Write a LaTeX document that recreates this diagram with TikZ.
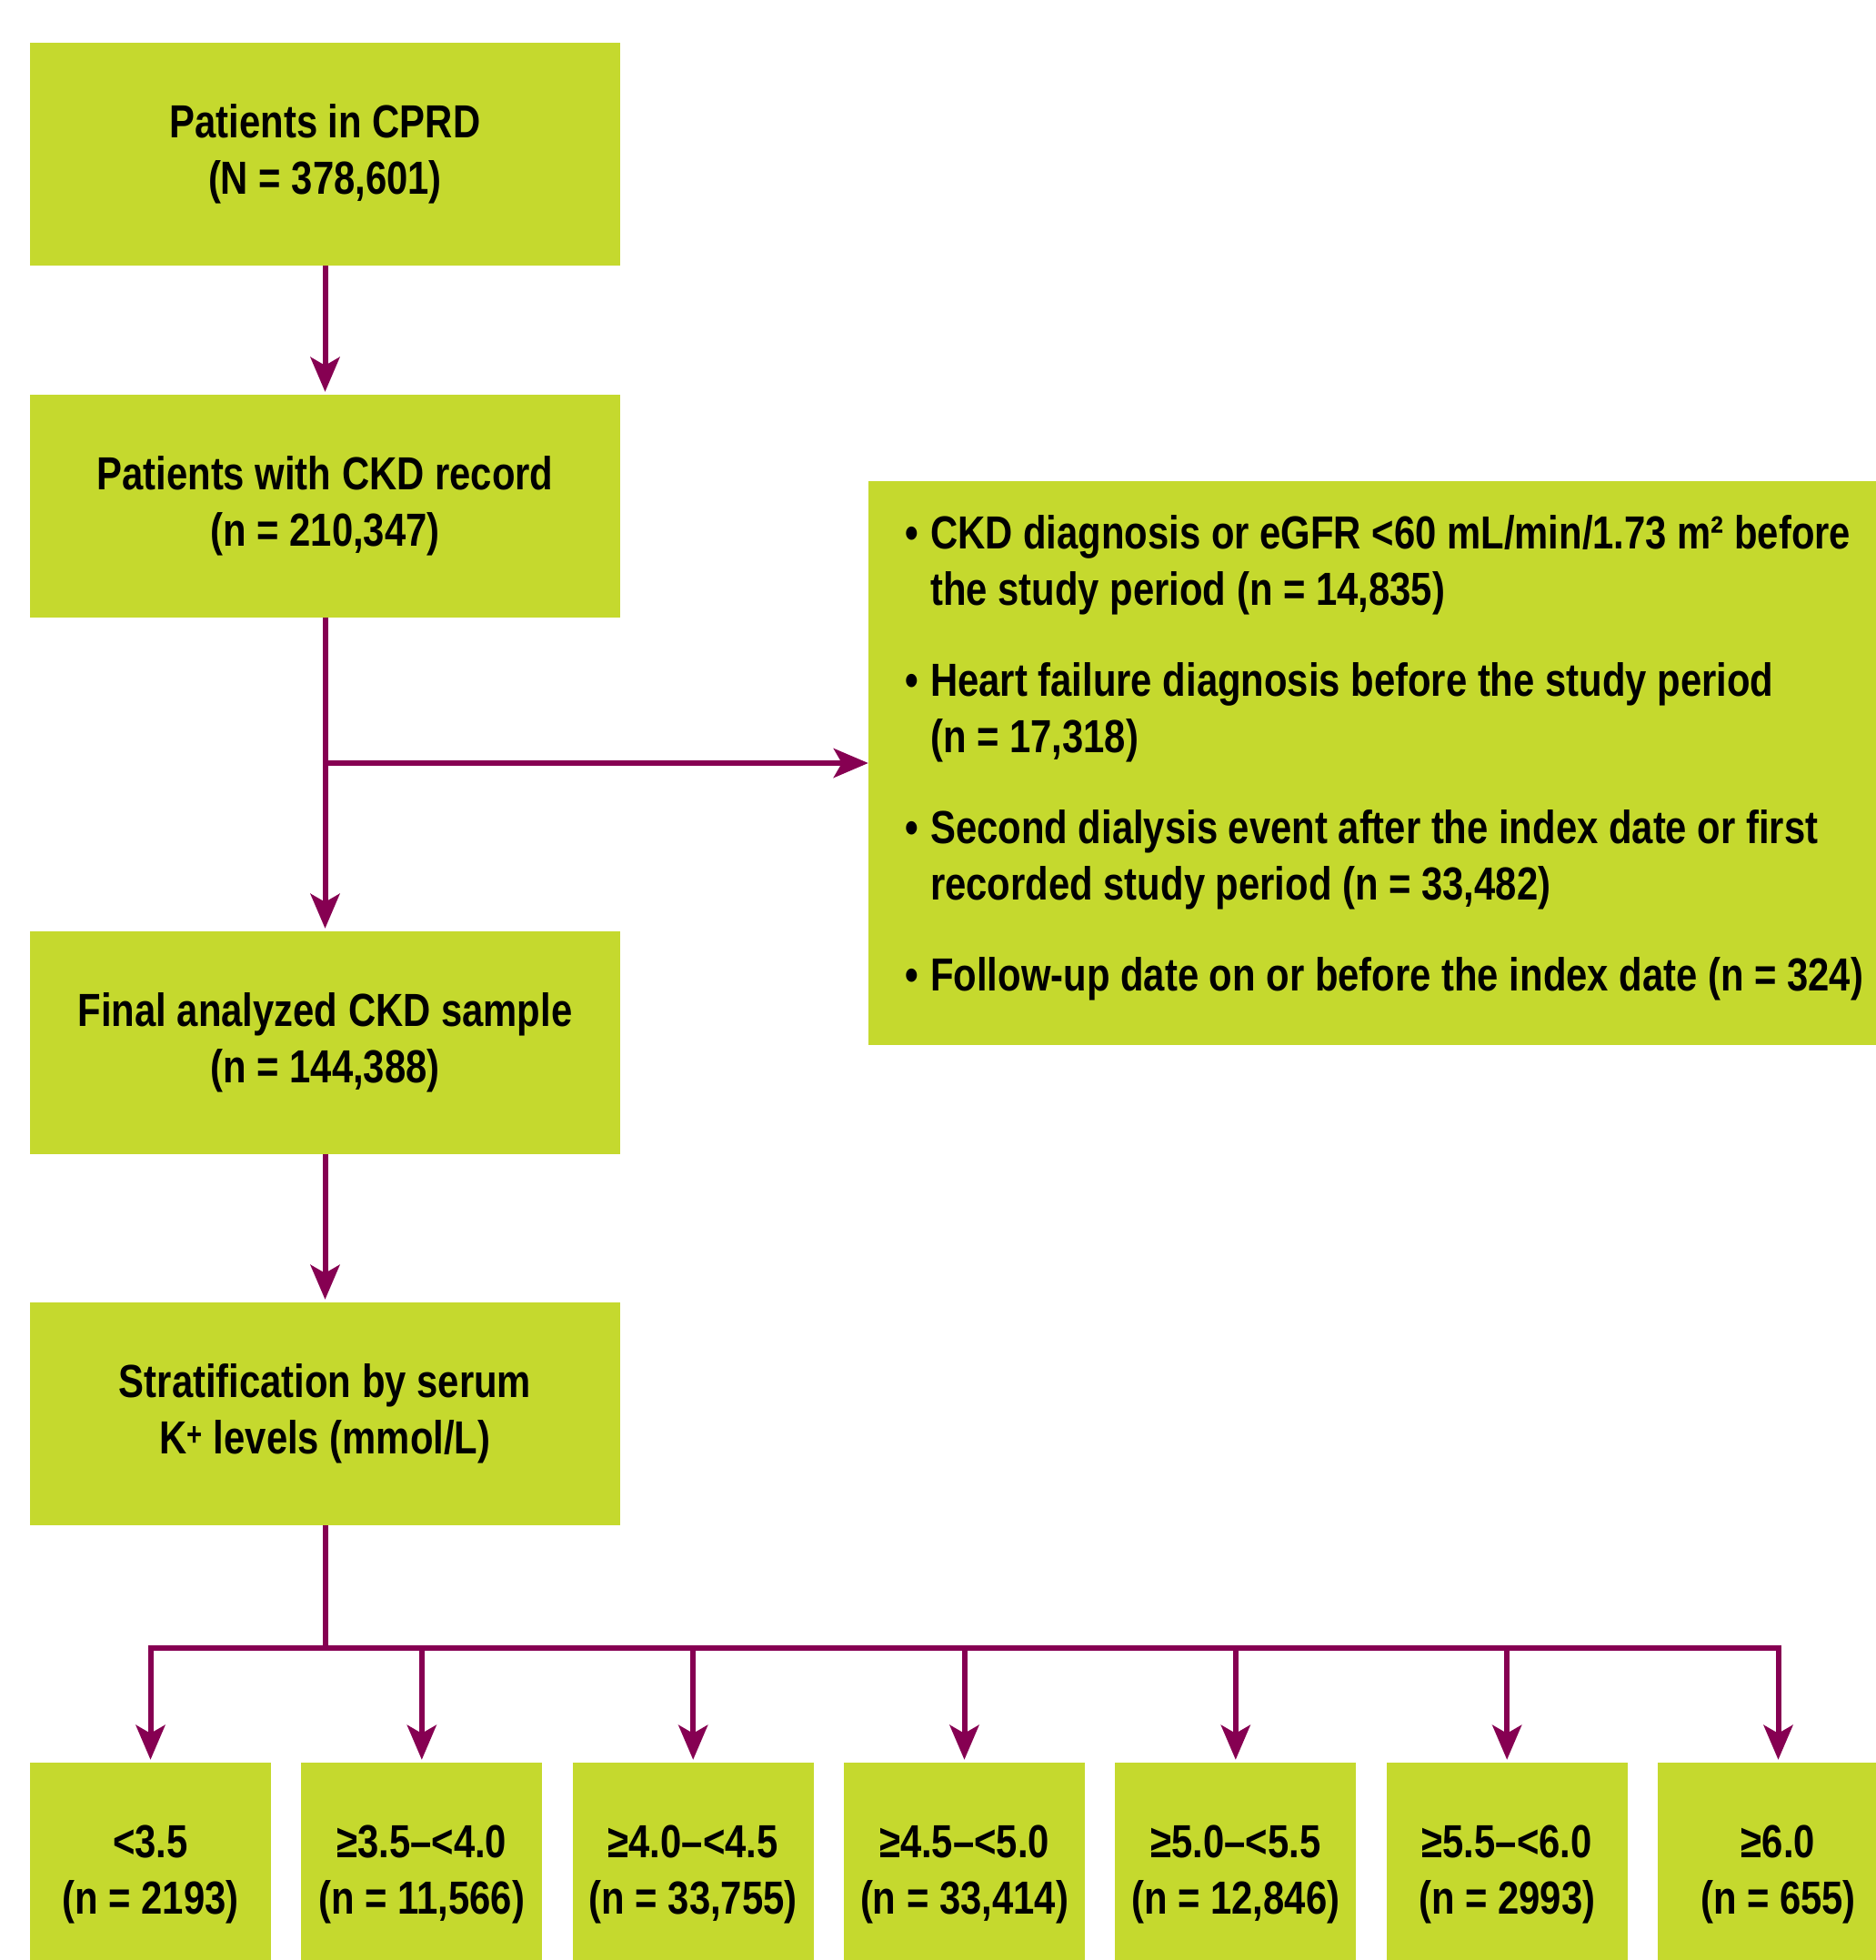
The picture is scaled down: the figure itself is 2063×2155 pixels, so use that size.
\documentclass[tikz,border=0pt]{standalone}
\usepackage{fontspec}
\setmainfont{Liberation Sans}[FakeStretch=0.82]
\usetikzlibrary{arrows.meta}
\definecolor{boxgreen}{RGB}{197,217,46}
\definecolor{arrowpurple}{RGB}{134,0,82}
\begin{document}
\begin{tikzpicture}[x=1pt,y=-1pt,
  box/.style={fill=boxgreen, draw=none, inner sep=0pt, align=center, text=black,
    font=\fontsize{51}{62}\selectfont\bfseries},
  leftbox/.style={box, minimum width=649pt, minimum height=245pt},
  kbox/.style={box, minimum width=265pt, minimum height=245pt},
  conn/.style={draw=arrowpurple, line width=6pt},
  arr/.style={conn, -{Stealth[length=38pt,width=32pt,inset=9pt]}}]
\useasboundingbox (0,0) rectangle (2063,2155);
\clip (0,0) rectangle (2063,2155);

\node[leftbox] (b1) at (357.5,169.5) {Patients in CPRD\\(N = 378,601)};
\node[leftbox] (b2) at (357.5,556.5) {Patients with CKD record\\(n = 210,347)};
\node[leftbox] (b3) at (357.5,1146.5) {Final analyzed CKD sample\\(n = 144,388)};
\node[leftbox] (b4) at (357.5,1554.5) {Stratification by serum\\K\textsuperscript{+} levels (mmol/L)};

\node[box, minimum width=1140pt, minimum height=620pt] (r) at (1525,839) {};
\node[anchor=west, inner sep=0pt, align=left, font=\fontsize{51}{62}\selectfont\bfseries] (rtext) at (995,833)
 {\makebox[28pt][l]{•}CKD diagnosis or eGFR <60 mL/min/1.73 m² before\\
  \hspace*{28pt}the study period (n = 14,835)\\[38pt]
  \makebox[28pt][l]{•}Heart failure diagnosis before the study period\\
  \hspace*{28pt}(n = 17,318)\\[38pt]
  \makebox[28pt][l]{•}Second dialysis event after the index date or first\\
  \hspace*{28pt}recorded study period (n = 33,482)\\[38pt]
  \makebox[28pt][l]{•}Follow-up date on or before the index date (n = 324)};

\node[kbox] (k1) at (165.5,2060.5) {<3.5\\(n = 2193)};
\node[kbox] (k2) at (463.8,2060.5) {≥3.5–<4.0\\(n = 11,566)};
\node[kbox] (k3) at (762.2,2060.5) {≥4.0–<4.5\\(n = 33,755)};
\node[kbox] (k4) at (1060.5,2060.5) {≥4.5–<5.0\\(n = 33,414)};
\node[kbox] (k5) at (1358.8,2060.5) {≥5.0–<5.5\\(n = 12,846)};
\node[kbox] (k6) at (1657.2,2060.5) {≥5.5–<6.0\\(n = 2993)};
\node[kbox] (k7) at (1955.5,2060.5) {≥6.0\\(n = 655)};

\draw[arr, shorten >=3pt] (b1.south) -- (b2.north);
\draw[arr, shorten >=3pt] (b2.south) -- (b3.north);
\coordinate (br) at (b2.south |- r.west);
\draw[arr] (br) -- (r.west);
\draw[arr, shorten >=3pt] (b3.south) -- (b4.north);

\coordinate (hub) at (357.5,1812);
\draw[conn] (b4.south) -- (hub);
\foreach \k in {k1,k2,k3,k4,k5,k6,k7}{
  \draw[arr, shorten >=3pt] (hub) -| (\k.north);
}
\end{tikzpicture}
\end{document}
